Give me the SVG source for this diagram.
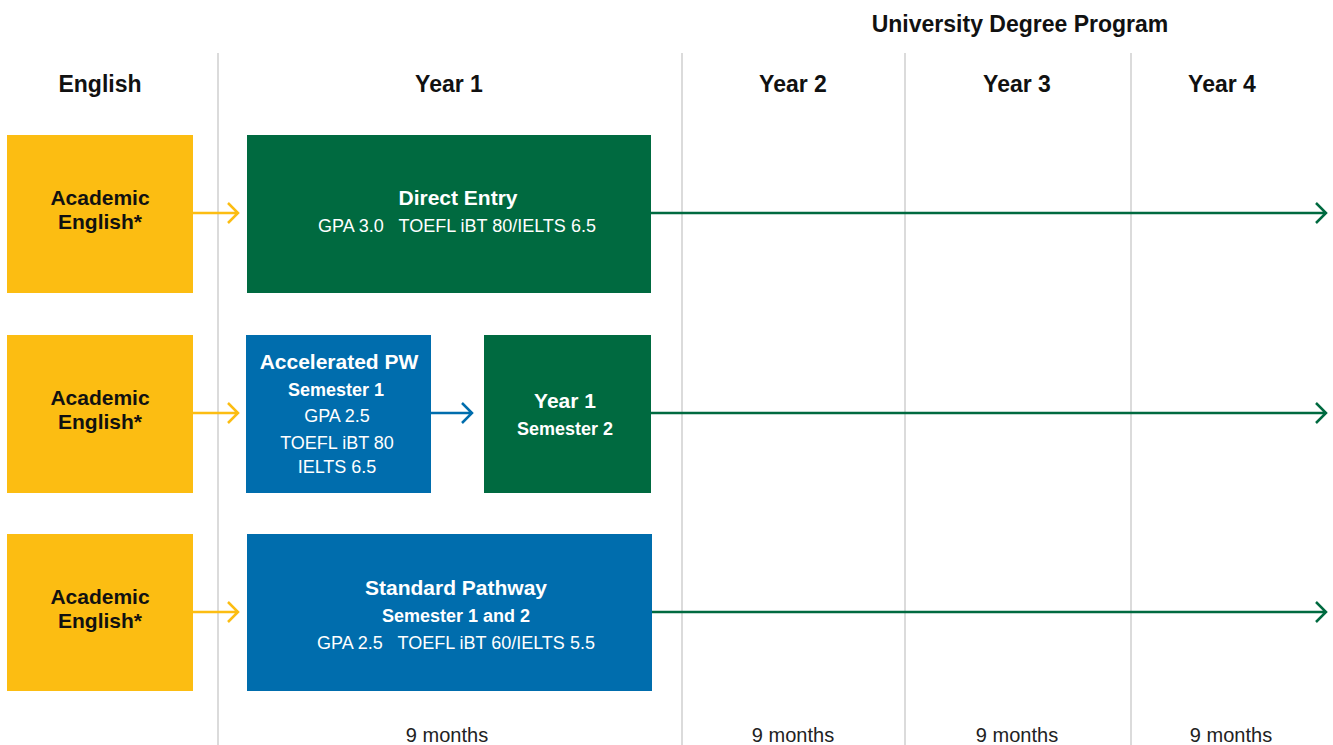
<svg xmlns="http://www.w3.org/2000/svg" width="1333" height="745" viewBox="0 0 1333 745">
<style>
text{font-family:"Liberation Sans",Arial,sans-serif;text-anchor:middle}
.hd{font-size:23px;font-weight:bold;fill:#111}
.yel{fill:#FCBD12}
.grn{fill:#006A40}
.blu{fill:#006DAD}
.ae{font-size:21px;font-weight:bold;fill:#111}
.t1{font-size:21px;font-weight:bold;fill:#fff}
.t2{font-size:18px;font-weight:bold;fill:#fff}
.t3{font-size:18px;fill:#fff}
.mo{font-size:20px;fill:#222}
.grid{stroke:#cfcfcf;stroke-width:1.5}
.cy{stroke:#FCBD12;stroke-width:2.5;fill:none}
.cg{stroke:#006A40;stroke-width:2.5;fill:none}
.cb{stroke:#006DAD;stroke-width:2.5;fill:none}
</style>
<rect width="1333" height="745" fill="#fff"/>
<g id="grid">
<line class="grid" x1="218" y1="53" x2="218" y2="745"/>
<line class="grid" x1="682" y1="53" x2="682" y2="745"/>
<line class="grid" x1="905" y1="53" x2="905" y2="745"/>
<line class="grid" x1="1131" y1="53" x2="1131" y2="745"/>
</g>
<g id="headers">
<text class="hd" x="1020" y="32">University Degree Program</text>
<text class="hd" x="100" y="92">English</text>
<text class="hd" x="449" y="92">Year 1</text>
<text class="hd" x="793" y="92">Year 2</text>
<text class="hd" x="1017" y="92">Year 3</text>
<text class="hd" x="1222" y="92">Year 4</text>
<text class="mo" x="447" y="742">9 months</text>
<text class="mo" x="793" y="742">9 months</text>
<text class="mo" x="1017" y="742">9 months</text>
<text class="mo" x="1231" y="742">9 months</text>
</g>
<g id="connectors">
<path class="cy" d="M193,213 H238 M228,203 L238,213 L228,223"/>
<path class="cy" d="M193,413 H238 M228,403 L238,413 L228,423"/>
<path class="cy" d="M193,612 H238 M228,602 L238,612 L228,622"/>
<path class="cg" d="M651,213 H1326 M1316,203 L1326,213 L1316,223"/>
<path class="cg" d="M651,413 H1326 M1316,403 L1326,413 L1316,423"/>
<path class="cg" d="M652,612 H1326 M1316,602 L1326,612 L1316,622"/>
<path class="cb" d="M431,413 H472 M462,403 L472,413 L462,423"/>
</g>
<g id="ae1"><rect class="yel" x="7" y="135" width="186" height="158"/><text class="ae" x="100" y="205">Academic</text><text class="ae" x="100" y="229">English*</text></g>
<g id="ae2"><rect class="yel" x="7" y="335" width="186" height="158"/><text class="ae" x="100" y="405">Academic</text><text class="ae" x="100" y="429">English*</text></g>
<g id="ae3"><rect class="yel" x="7" y="534" width="186" height="157"/><text class="ae" x="100" y="604">Academic</text><text class="ae" x="100" y="628">English*</text></g>
<g id="direct"><rect class="grn" x="247" y="135" width="404" height="158"/><text class="t1" x="458" y="205">Direct Entry</text><text class="t3" x="457" y="232" xml:space="preserve">GPA 3.0   TOEFL iBT 80/IELTS 6.5</text></g>
<g id="accel"><rect class="blu" x="246" y="335" width="185" height="158"/><text class="t1" x="339" y="369">Accelerated PW</text><text class="t2" x="336" y="396">Semester 1</text><text class="t3" x="337" y="422">GPA 2.5</text><text class="t3" x="337" y="449">TOEFL iBT 80</text><text class="t3" x="337" y="473">IELTS 6.5</text></g>
<g id="year1s2"><rect class="grn" x="484" y="335" width="167" height="158"/><text class="t1" x="565" y="408">Year 1</text><text class="t2" x="565" y="435">Semester 2</text></g>
<g id="standard"><rect class="blu" x="247" y="534" width="405" height="157"/><text class="t1" x="456" y="595">Standard Pathway</text><text class="t2" x="456" y="622">Semester 1 and 2</text><text class="t3" x="456" y="649" xml:space="preserve">GPA 2.5   TOEFL iBT 60/IELTS 5.5</text></g>
</svg>
